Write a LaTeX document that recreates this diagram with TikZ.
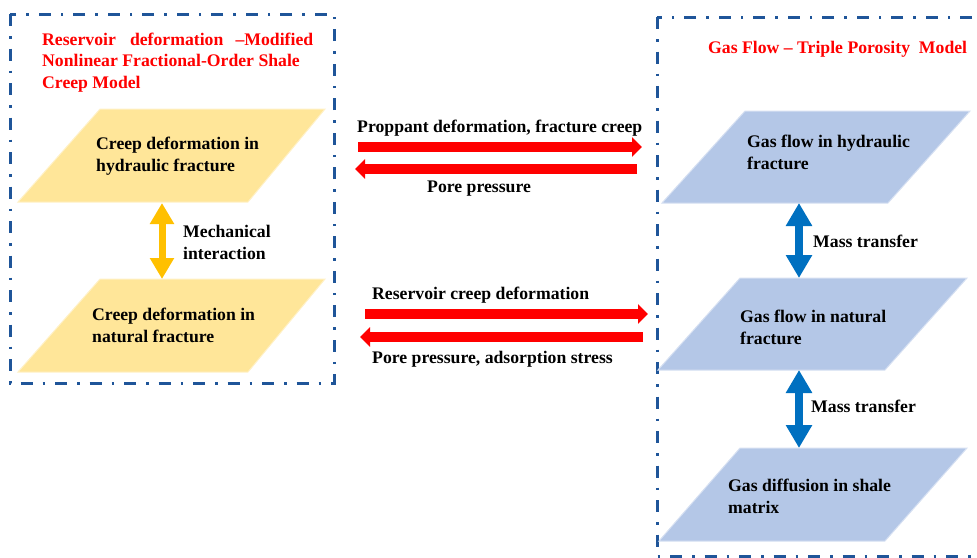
\documentclass[tikz,border=0pt]{standalone}
\usepackage{fontspec}
\setmainfont{Liberation Serif}
\usetikzlibrary{arrows.meta}
\definecolor{framecol}{RGB}{31,85,153}
\definecolor{yfill}{RGB}{255,230,153}
\definecolor{bfill}{RGB}{180,199,231}
\definecolor{yarrcol}{RGB}{255,192,0}
\definecolor{barrcol}{RGB}{0,112,192}
\definecolor{titlered}{RGB}{255,0,0}
\tikzset{
  frame/.style={draw=framecol, line width=3pt, dash pattern=on 12pt off 10pt on 2.5pt off 10pt},
  ypar/.style={fill=yfill, draw=yfill!55!white, line width=1pt},
  bpar/.style={fill=bfill, draw=bfill!55!white, line width=1pt},
  lbl/.style={anchor=base west, inner sep=0pt, align=left, font=\fontsize{17.7}{21.3}\selectfont\bfseries},
  ttl/.style={lbl, text=titlered},
  redarr/.style={draw=red, line width=10pt, -{Triangle[length=10pt,width=19pt]}},
  yarr/.style={draw=yarrcol, line width=7pt, {Triangle[length=21pt,width=23pt]}-{Triangle[length=21pt,width=23pt]}},
  barr/.style={draw=barrcol, line width=8pt, {Triangle[length=23pt,width=25pt]}-{Triangle[length=23pt,width=25pt]}}
}
\begin{document}
\begin{tikzpicture}[x=1pt,y=-1pt]
\useasboundingbox (0,0) rectangle (977,557);
\begin{scope}
\clip (0,0) rectangle (977,557);
% frames
\path[frame] (10,14) rectangle (334,383);
\path[frame] (657,17) rectangle (1000,556);
% parallelograms
\path[ypar] (100,109) -- (325,109) -- (248,202) -- (18,202) -- cycle;
\path[ypar] (100,279) -- (325,279) -- (248,372) -- (18,372) -- cycle;
\path[bpar] (745,111) -- (970,111) -- (888,203) -- (662,203) -- cycle;
\path[bpar] (740,278) -- (967,278) -- (885,370) -- (658,370) -- cycle;
\path[bpar] (740,448) -- (967,448) -- (885,541) -- (659,541) -- cycle;
\end{scope}
% titles (anchor is baseline of last line)
\node[ttl] (t1) at (42,88) {\makebox[271pt][s]{Reservoir deformation \kern-2pt–Modified}\\Nonlinear Fractional-Order Shale\\Creep Model};
\node[ttl] (t2) at (708,53) {Gas Flow – Triple Porosity \ Model};
% box texts
\node[lbl] (y1) at (96,171) {Creep deformation in\\hydraulic fracture};
\node[lbl] (y2) at (92,342) {Creep deformation in\\natural fracture};
\node[lbl] (b1) at (747,169) {Gas flow in hydraulic\\fracture};
\node[lbl] (b2) at (740,344) {Gas flow in natural\\fracture};
\node[lbl] (b3) at (728,513) {Gas diffusion in shale\\matrix};
% anchor coordinates
\coordinate (y1b) at (162,203);
\coordinate (y2t) at (162,279);
\coordinate (b1b) at (799,203);
\coordinate (b2t) at (799,278);
\coordinate (b2b) at (799,370);
\coordinate (b3t) at (799,448);
\coordinate (r1s) at (358,147);
\coordinate (r1e) at (642,147);
\coordinate (r2s) at (637,169);
\coordinate (r2e) at (355,169);
\coordinate (r3s) at (365,314);
\coordinate (r3e) at (648,314);
\coordinate (r4s) at (643,337);
\coordinate (r4e) at (360,337);
% arrows
\draw[yarr] (y1b) -- (y2t);
\draw[barr] (b1b) -- (b2t);
\draw[barr] (b2b) -- (b3t);
\draw[redarr] (r1s) -- (r1e);
\draw[redarr] (r2s) -- (r2e);
\draw[redarr] (r3s) -- (r3e);
\draw[redarr] (r4s) -- (r4e);
% arrow labels
\node[lbl] (m1) at (183,259) {Mechanical\\interaction};
\node[lbl] (mt1) at (813,247) {Mass transfer};
\node[lbl] (mt2) at (811,412) {Mass transfer};
\node[lbl] (l1) at (357,132) {Proppant deformation, fracture creep};
\node[lbl] (l2) at (427,192) {Pore pressure};
\node[lbl] (l3) at (372,299) {Reservoir creep deformation};
\node[lbl] (l4) at (372,363) {Pore pressure, adsorption stress};
\end{tikzpicture}
\end{document}
